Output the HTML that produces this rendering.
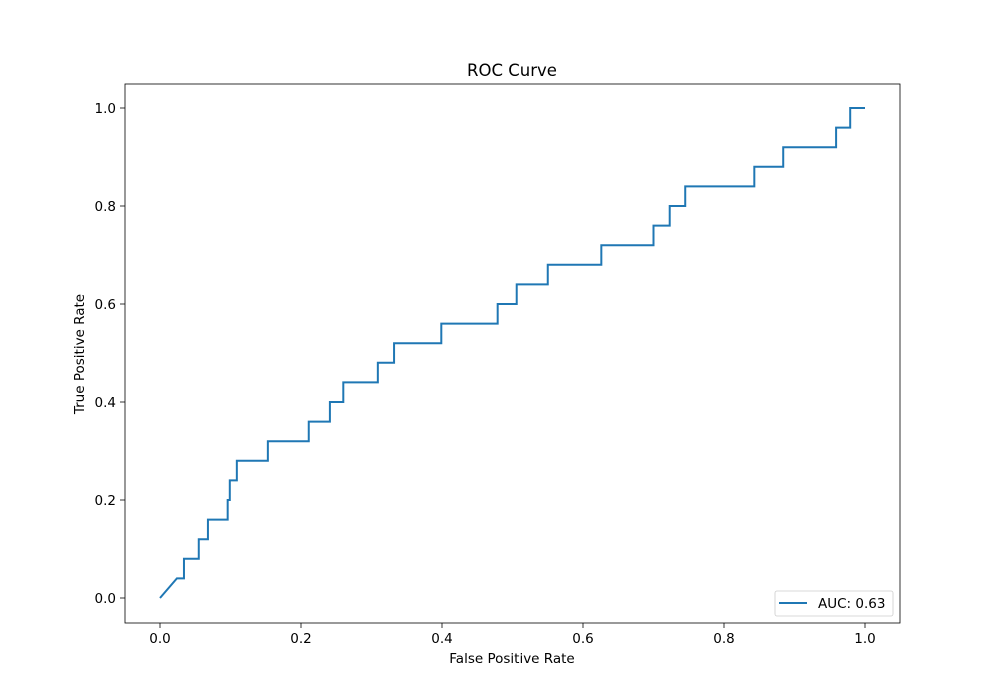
<!DOCTYPE html>
<html><head><meta charset="utf-8"><style>body{margin:0;background:#fff}svg{display:block;font-family:"DejaVu Sans","Liberation Sans",sans-serif}</style></head>
<body>
<svg id="c" width="1000" height="700" viewBox="0 0 1000 700">
<rect width="1000" height="700" fill="#fff"/>
<g id="g"></g>
</svg>
<script>
const fpr = [0,0.024,0.034,0.034,0.055,0.055,0.068,0.068,0.096,0.096,0.099,0.099,0.109,0.109,0.153,0.153,0.211,0.211,0.241,0.241,0.26,0.26,0.309,0.309,0.332,0.332,0.399,0.399,0.479,0.479,0.506,0.506,0.55,0.55,0.626,0.626,0.70,0.70,0.723,0.723,0.745,0.745,0.843,0.843,0.884,0.884,0.959,0.959,0.979,0.979,1.0];
const tpr = [0,0.04,0.04,0.08,0.08,0.12,0.12,0.16,0.16,0.20,0.20,0.24,0.24,0.28,0.28,0.32,0.32,0.36,0.36,0.40,0.40,0.44,0.44,0.48,0.48,0.52,0.52,0.56,0.56,0.60,0.60,0.64,0.64,0.68,0.68,0.72,0.72,0.76,0.76,0.80,0.80,0.84,0.84,0.88,0.88,0.92,0.92,0.96,0.96,1.0,1.0];
const xTicks = [0,0.2,0.4,0.6,0.8,1.0];
const yTicks = [0,0.2,0.4,0.6,0.8,1.0];
const NS='http://www.w3.org/2000/svg', g=document.getElementById('g');
const X=v=>160+v*705, Y=v=>598-v*490;
function el(t,a,txt){const e=document.createElementNS(NS,t);for(const k in a)e.setAttribute(k,a[k]);if(txt!=null)e.textContent=txt;g.appendChild(e);return e;}
let e;
e=el('rect',{x:125,y:84,width:775,height:539,fill:'none',stroke:'#000','stroke-width':0.8});


xTicks.forEach(t=>{
 e=el('line',{x1:X(t),x2:X(t),y1:623,y2:628,stroke:'#000','stroke-width':0.8});
 
 
 e=el('text',{x:X(t),y:643,'text-anchor':'middle','font-size':13.5},t.toFixed(1));
 
 
});
yTicks.forEach(t=>{
 e=el('line',{x1:120,x2:125,y1:Y(t),y2:Y(t),stroke:'#000','stroke-width':0.8});
 
 
 e=el('text',{x:116,y:Y(t)+5,'text-anchor':'end','font-size':13.5},t.toFixed(1));
 
 
});
e=el('text',{x:512,y:663,'text-anchor':'middle','font-size':13.5},'False Positive Rate');


e=el('text',{x:84,y:354,'text-anchor':'middle','font-size':13.5,transform:'rotate(-90 84 354)'},'True Positive Rate');


e=el('text',{x:512,y:76,'text-anchor':'middle','font-size':16.5},'ROC Curve');


e=el('polyline',{points:fpr.map((f,i)=>X(f)+','+Y(tpr[i])).join(' '),fill:'none',stroke:'#1f77b4','stroke-width':2});


e=el('rect',{x:775,y:591,width:118,height:25,rx:2,fill:'#fff',stroke:'#ccc','stroke-width':0.8});


e=el('line',{x1:779,x2:807,y1:603,y2:603,stroke:'#1f77b4','stroke-width':2});


e=el('text',{x:818,y:608,'font-size':13.5},'AUC: 0.63');


</script>
</body></html>
